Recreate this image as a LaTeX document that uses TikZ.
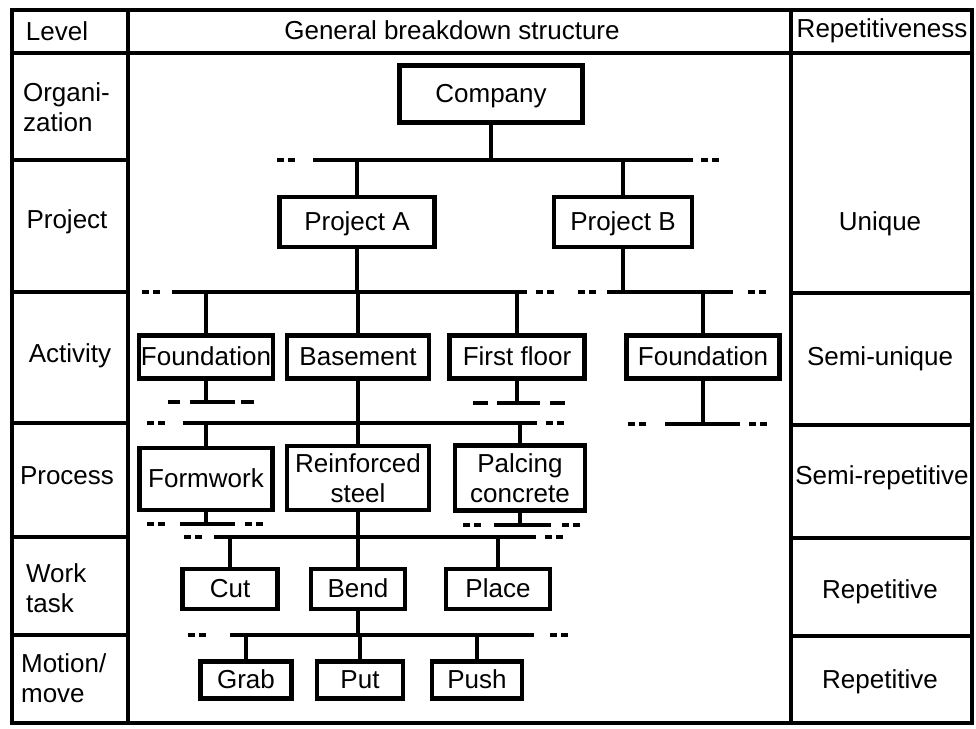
\documentclass[tikz,border=0pt]{standalone}
\usepackage{fontspec}
\setmainfont{Liberation Sans}
\usetikzlibrary{positioning}

\begin{document}
\begin{tikzpicture}[
    x=0.02cm, y=-0.02cm,
    txt/.style={font=\fontsize{14.8}{17}\selectfont, inner sep=1pt},
    box/.style={txt, draw, line width=2.4pt, align=center},
    oneline/.style={box, text height=10.6pt, text depth=0.8pt},
    lvl/.style={txt, align=left},
    grid/.style={line width=2.2pt},
    link/.style={line width=2pt},
    bus/.style={line width=2pt},
    busend/.style={line width=2pt, dash pattern=on 4pt off 2.5pt}
]
\useasboundingbox (0,0) rectangle (976,728);

% Table frame
\draw[grid] (12,10) rectangle (972,723);
\draw[grid] (128,10) -- (128,723);
\draw[grid] (791,10) -- (791,723);
\draw[grid] (12,53) -- (972,53);
% level rows
\draw[grid] (12,160) -- (128,160);
\draw[grid] (12,292) -- (128,292);
\draw[grid] (12,423) -- (128,423);
\draw[grid] (12,537) -- (128,537);
\draw[grid] (12,635) -- (128,635);
% repetitiveness rows
\draw[grid] (791,293) -- (972,293);
\draw[grid] (791,425) -- (972,425);
\draw[grid] (791,538) -- (972,538);
\draw[grid] (791,636) -- (972,636);

% Column headers
\node[txt] (hlevel) at (57,31) {Level};
\node[txt] (hgen) at (452,30) {General breakdown structure};
\node[txt] (hrep) at (882,31) {Repetitiveness};

% Level labels
\node[lvl, anchor=west] (lorg) at (21,107) {Organi-\\zation};
\node[txt] (lproj) at (67,222) {Project};
\node[txt] (lact) at (70,356) {Activity};
\node[txt] (lproc) at (67,476) {Process};
\node[lvl, anchor=west] (lwork) at (24,588) {Work\\task};
\node[lvl, anchor=west] (lmot) at (19,678) {Motion/\\move};

% Repetitiveness labels
\node[txt] (runi) at (880,224) {Unique};
\node[txt] (rsemu) at (880,359) {Semi-unique};
\node[txt] (rsemr) at (882,478) {Semi-repetitive};
\node[txt] (rrep1) at (880,592) {Repetitive};
\node[txt] (rrep2) at (880,682) {Repetitive};

% Breakdown boxes
\node[oneline, minimum width=3.66cm, minimum height=1.14cm] (company) at (491,94) {Company};
\node[oneline, minimum width=3.1cm, minimum height=1cm] (projA) at (357,222) {Project A};
\node[oneline, minimum width=2.76cm, minimum height=1cm] (projB) at (623,222) {Project B};
\node[oneline, minimum width=2.62cm, minimum height=0.86cm] (foundA) at (206,357) {Foundation};
\node[oneline, minimum width=2.84cm, minimum height=0.86cm] (basement) at (358,357) {Basement};
\node[oneline, minimum width=2.7cm, minimum height=0.86cm] (floor) at (517,357) {First floor};
\node[oneline, minimum width=3.06cm, minimum height=0.86cm] (foundB) at (703,357) {Foundation};
\node[oneline, minimum width=2.66cm, minimum height=1.24cm] (formwork) at (206,479) {Formwork};
\node[box, minimum width=2.84cm, minimum height=1.28cm] (steel) at (358,478) {Reinforced\\steel};
\node[box, minimum width=2.6cm, minimum height=1.3cm] (concrete) at (520,478) {Palcing\\concrete};
\node[oneline, minimum width=1.9cm, minimum height=0.8cm] (cut) at (230,589) {Cut};
\node[oneline, minimum width=1.88cm, minimum height=0.8cm] (bend) at (358,589) {Bend};
\node[oneline, minimum width=2.08cm, minimum height=0.8cm] (place) at (498,589) {Place};
\node[oneline, minimum width=1.82cm, minimum height=0.74cm] (grab) at (246,680) {Grab};
\node[oneline, minimum width=1.72cm, minimum height=0.74cm] (put) at (360,680) {Put};
\node[oneline, minimum width=1.8cm, minimum height=0.74cm] (push) at (477,680) {Push};

% Bus levels
\coordinate (projbus) at (0,160);
\coordinate (actbus) at (0,292);
\coordinate (subA) at (0,402);
\coordinate (subF) at (0,403);
\coordinate (subB) at (0,424);
\coordinate (procbus) at (0,423);
\coordinate (subW) at (0,524);
\coordinate (subC) at (0,525);
\coordinate (workbus) at (0,537);
\coordinate (motbus) at (0,635);

% Bus lines, solid middle with dashed ends
\draw[busend] (277,160) -- (296,160); \draw[bus] (313,160) -- (693,160); \draw[busend] (701,160) -- (720,160);
\draw[busend] (142,292) -- (161,292); \draw[bus] (172,292) -- (527,292); \draw[busend] (536,292) -- (555,292);
\draw[busend] (578,292) -- (597,292); \draw[bus] (607,292) -- (733,292); \draw[busend] (748,292) -- (767,292);
\draw[bus] (168,402) -- (180,402); \draw[bus] (190,402) -- (235,402); \draw[bus] (241,402) -- (254,402);
\draw[bus] (473,403) -- (488,403); \draw[bus] (497,403) -- (540,403); \draw[bus] (550,403) -- (565,403);
\draw[busend] (628,424) -- (647,424); \draw[bus] (665,424) -- (740,424); \draw[busend] (749,424) -- (768,424);
\draw[busend] (147,423) -- (166,423); \draw[bus] (183,423) -- (537,423); \draw[busend] (546,423) -- (565,423);
\draw[busend] (147,524) -- (166,524); \draw[bus] (180,524) -- (235,524); \draw[busend] (245,524) -- (264,524);
\draw[busend] (463,525) -- (482,525); \draw[bus] (494,525) -- (551,525); \draw[busend] (562,525) -- (581,525);
\draw[busend] (184,537) -- (203,537); \draw[bus] (214,537) -- (536,537); \draw[busend] (545,537) -- (564,537);
\draw[busend] (188,635) -- (207,635); \draw[bus] (230,635) -- (534,635); \draw[busend] (550,635) -- (569,635);

% Vertical links
\draw[link] (company.south) -- (company.south |- projbus);
\draw[link] (projA.north) -- (projA.north |- projbus);
\draw[link] (projB.north) -- (projB.north |- projbus);
\draw[link] (projA.south) -- (projA.south |- actbus);
\draw[link] (projB.south) -- (projB.south |- actbus);
\draw[link] (foundA.north) -- (foundA.north |- actbus);
\draw[link] (basement.north) -- (basement.north |- actbus);
\draw[link] (floor.north) -- (floor.north |- actbus);
\draw[link] (foundB.north) -- (foundB.north |- actbus);
\draw[link] (foundA.south) -- (foundA.south |- subA);
\draw[link] (floor.south) -- (floor.south |- subF);
\draw[link] (foundB.south) -- (foundB.south |- subB);
\draw[link] (basement.south) -- (steel.north);
\draw[link] (formwork.north) -- (formwork.north |- procbus);
\draw[link] (concrete.north) -- (concrete.north |- procbus);
\draw[link] (formwork.south) -- (formwork.south |- subW);
\draw[link] (concrete.south) -- (concrete.south |- subC);
\draw[link] (steel.south) -- (bend.north);
\draw[link] (cut.north) -- (cut.north |- workbus);
\draw[link] (place.north) -- (place.north |- workbus);
\draw[link] (bend.south) -- (bend.south |- motbus);
\draw[link] (grab.north) -- (grab.north |- motbus);
\draw[link] (put.north) -- (put.north |- motbus);
\draw[link] (push.north) -- (push.north |- motbus);

\end{tikzpicture}
\end{document}
